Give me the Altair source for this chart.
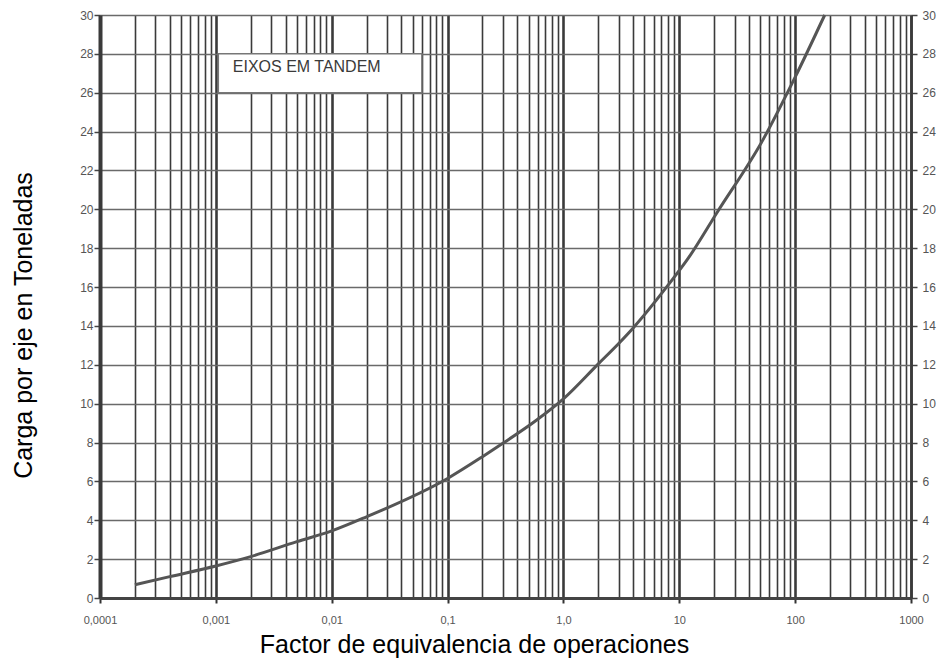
import altair as alt
import pandas as pd

# Curve values
factor = [0.0002, 0.0004, 0.001, 0.002, 0.005, 0.01, 0.02, 0.1, 0.2, 0.3, 0.6, 1.0,
          2.0, 3.0, 4.0, 8.0, 12.0, 21.0, 53.0, 100.0, 180.0]
carga = [0.68, 1.1, 1.65, 2.13, 2.9, 3.45, 4.18, 6.15, 7.27, 7.96, 9.2, 10.25,
         12.05, 13.1, 13.9, 16.1, 17.5, 19.8, 23.6, 26.8, 30.0]

decades = [0.0001, 0.001, 0.01, 0.1, 1.0, 10.0, 100.0, 1000.0]
decade_labels = ["0,0001", "0,001", "0,01", "0,1", "1,0", "10", "100", "1000"]
y_ticks = list(range(0, 31, 2))

box_x = [0.00105, 0.06]
box_y = [26, 28]
box_text = "EIXOS EM TANDEM"
box_text_pos = [0.0014, 27.3]

# grid positions of log paper: 1..9 x each decade
grid_x = []
for d in decades[:-1]:
    for m in range(1, 10):
        grid_x.append(round(m * d, 10))
grid_x.append(1000.0)

is_decade = "abs(log(datum.value)/LN10 - round(log(datum.value)/LN10)) < 0.001"
label_expr = "''"
for v, lab in zip(reversed(decades), reversed(decade_labels)):
    label_expr = f"abs(datum.value - {v}) < {v}*0.01 ? '{lab}' : ({label_expr})"

curve_df = pd.DataFrame({"factor": factor, "carga": carga})

xscale = alt.Scale(type="log", domain=[0.0001, 1000], nice=False)
yscale = alt.Scale(domain=[0, 30], nice=False, zero=False)

FONT = "Liberation Sans"

x_axis = alt.Axis(
    values=grid_x,
    grid=True,
    gridColor="#3a3a3a",
    gridWidth={"condition": {"test": is_decade, "value": 2.6}, "value": 1.6},
    gridOpacity=1,
    ticks=True,
    tickSize={"condition": {"test": is_decade, "value": 5}, "value": 0},
    tickColor="#333",
    tickWidth=2,
    labelExpr=label_expr,
    labelFont=FONT,
    labelFontSize=11,
    labelColor="#555",
    labelPadding=11,
    labelBaseline="top",
    labelOverlap=False,
    labelFlush=False,
    domainColor="#444",
    domainWidth=3,
    title="Factor de equivalencia de operaciones",
    titleFont=FONT,
    titleFontSize=25,
    titleFontWeight="normal",
    titleColor="#000",
    titleX=374,
    titleY=54,
    titleBaseline="alphabetic",
    titleAlign="center",
)

y_axis_left = alt.Axis(
    values=y_ticks,
    tickCount=16,
    labelOverlap=False,
    grid=True,
    gridColor="#6a6a6a",
    gridWidth=1.5,
    gridOpacity=1,
    tickSize=6,
    tickColor="#444",
    tickWidth=1.5,
    labelFont=FONT,
    labelFontSize=12,
    labelColor="#555",
    labelPadding=1,
    labelFlush=False,
    domainColor="#3a3a3a",
    domainWidth=4,
    title="Carga por eje en Toneladas",
    titleFont=FONT,
    titleFontSize=25,
    titleFontWeight="normal",
    titleColor="#000",
    titleAngle=-90,
    titleX=-69,
    titleY=310,
    titleAlign="center",
    titleBaseline="alphabetic",
)

y_axis_right = alt.Axis(
    orient="right",
    values=y_ticks,
    tickCount=16,
    labelOverlap=False,
    labelFlush=False,
    grid=False,
    tickSize=6,
    tickColor="#444",
    tickWidth=1.5,
    labelFont=FONT,
    labelFontSize=12,
    labelColor="#555",
    labelPadding=5,
    domainColor="#3a3a3a",
    domainWidth=2.5,
    title="",
)

base = alt.Chart(curve_df)

curve = base.mark_line(color="#555", strokeWidth=3, interpolate="monotone").encode(
    x=alt.X("factor:Q", scale=xscale, axis=x_axis),
    y=alt.Y("carga:Q", scale=yscale, axis=y_axis_left),
)

box_df = pd.DataFrame({"x": [box_x[0]], "x2": [box_x[1]], "y": [box_y[0]], "y2": [box_y[1]]})
box = alt.Chart(box_df).mark_rect(fill="white", stroke="#777", strokeWidth=1.5).encode(
    x=alt.X("x:Q", scale=xscale, axis=x_axis),
    x2="x2:Q",
    y=alt.Y("y:Q", scale=yscale, axis=y_axis_left),
    y2="y2:Q",
)

txt_df = pd.DataFrame({"x": [box_text_pos[0]], "y": [box_text_pos[1]], "t": [box_text]})
txt = alt.Chart(txt_df).mark_text(
    align="left", baseline="middle", font=FONT, fontSize=16, color="#3a3a3a", fontWeight="normal"
).encode(
    x=alt.X("x:Q", scale=xscale, axis=x_axis),
    y=alt.Y("y:Q", scale=yscale, axis=y_axis_left),
    text="t:N",
)

main = alt.layer(curve, box, txt)

right_axis = base.mark_line(opacity=0).encode(
    x=alt.X("factor:Q", scale=xscale, axis=x_axis),
    y=alt.Y("carga:Q", scale=yscale, axis=y_axis_right),
)

chart = (
    alt.layer(main, right_axis)
    .resolve_axis(y="independent")
    .properties(
        width=811,
        height=583,
        autosize=alt.AutoSizeParams(type="none"),
        padding={"left": 100, "top": 15, "right": 31, "bottom": 62},
        background="white",
    )
    .configure_view(strokeWidth=0)
)

chart.save("out.html", embed_options={"renderer": "svg", "actions": False})
